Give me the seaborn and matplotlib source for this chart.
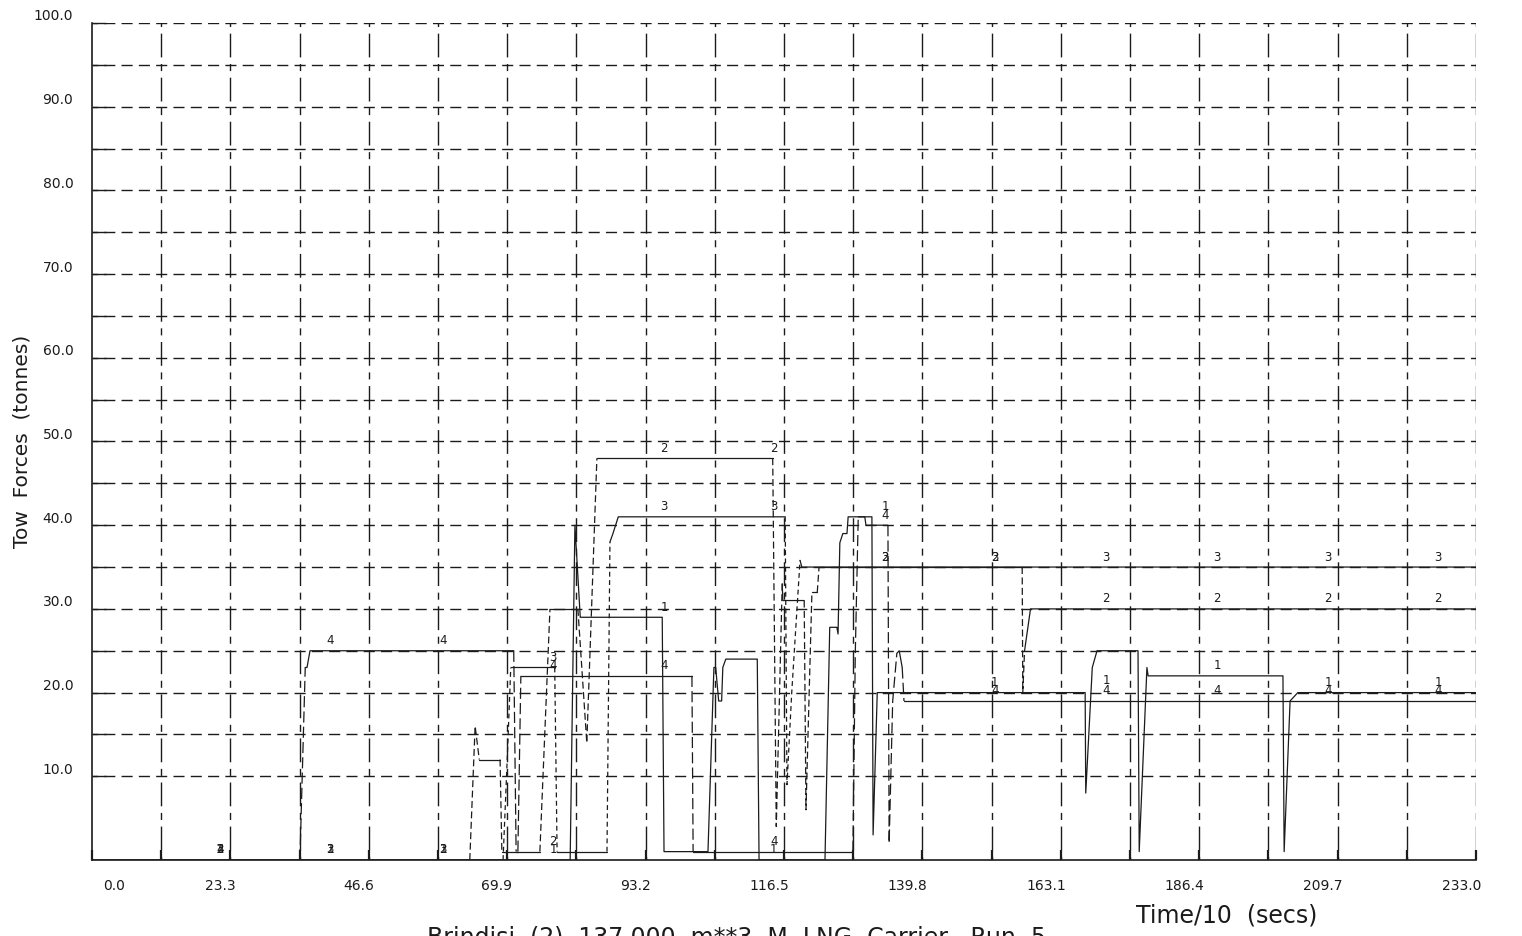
import numpy as np
import pandas as pd
import matplotlib
matplotlib.use("Agg")
import matplotlib.pyplot as plt
import matplotlib.transforms as mtransforms
from matplotlib.ticker import FixedLocator, NullFormatter
import seaborn as sns

# ---------------- data ----------------
s1_t = [0.0, 80.5, 81.3, 82.2, 96.0, 96.3, 103.7, 104.7, 105.0, 105.5, 106.0, 106.2, 106.7,
        112.0, 112.3, 123.4, 124.2, 125.4, 125.6, 125.9, 126.4, 127.1, 127.3, 131.3, 131.5,
        132.2, 167.2, 167.3, 168.4, 169.2, 176.1, 176.3, 177.6, 177.8, 200.5, 200.7, 201.7,
        203.0, 233.0]
s1_f = [0, 0, 40, 29, 29, 1, 1, 23, 23, 19, 19, 23, 24,
        24, 0, 0, 27.8, 27.8, 27.0, 37.9, 39, 39, 41, 41, 3,
        20, 20, 8, 23, 25, 25, 1, 23, 22, 22, 1, 19,
        20, 20]

s2_t = [0.0, 63.6, 64.5, 65.2, 68.7, 69.0, 75.4, 77.1, 81.8, 83.3, 85.0, 114.6, 115.2,
        116.2, 116.3, 119.9, 120.2, 121.2, 122.1, 122.4, 156.6, 156.7, 157.0, 158.0, 233.0]
s2_f = [0, 0, 16, 12, 12, 1, 1, 30, 30, 14, 48, 48, 4,
        33, 31, 31, 6, 32, 32, 35, 35, 20, 25, 30, 30]

s3_t = [0.0, 69.2, 69.9, 70.5, 77.9, 78.3, 86.7, 87.2, 87.7, 88.6, 116.7, 117.0, 117.8,
        119.2, 119.5, 233.0]
s3_f = [0, 0, 12, 23, 23, 1, 1, 38, 39, 41, 41, 9, 20,
        35.8, 35, 35]

s4_t = [0.0, 35.0, 35.9, 36.2, 36.7, 71.0, 71.4, 71.7, 72.2, 101.0, 101.2, 128.1, 128.5,
        129.0, 130.1, 130.3, 134.0, 134.2, 134.8, 135.5, 135.9, 136.4, 136.7, 233.0]
s4_f = [0, 0, 23, 23, 25, 25, 1, 1, 22, 22, 1, 1, 24.7,
        41, 41, 40, 40, 2, 19, 24.7, 25, 23, 19, 19]

series_names = ["1", "2", "3", "4"]
label_t = [21.5, 40.1, 59.1, 77.6, 96.3, 114.8, 133.5, 152.0, 170.7, 189.4, 208.1, 226.6]

x_major = [0.0, 23.3, 46.6, 69.9, 93.2, 116.5, 139.8, 163.1, 186.4, 209.7, 233.0]
y_major = [10, 20, 30, 40, 50, 60, 70, 80, 90, 100]

title_text = "Brindisi  (2)  137,000  m**3  M  LNG  Carrier,  Run  5"
xlabel_text = "Time/10  (secs)"
ylabel_text = "Tow  Forces  (tonnes)"

# ---------------- style ----------------
sns.set_style("ticks")
plt.rcParams["font.family"] = ["DejaVu Sans"]
plt.rcParams["lines.scale_dashes"] = False

W, H, DPI = 1522, 936, 100
fig = plt.figure(figsize=(W / DPI, H / DPI), dpi=DPI)
L, R, B, T = 92, 1476, 860, 23
ax = fig.add_axes([L / W, 1 - B / H, (R - L) / W, (B - T) / H])
ax.set_xlim(0, 233)
ax.set_ylim(0, 100)

ink = "#1b1b1b"

# ---------------- grid (dashed, with crosses at intersections) ----------------
x_minor = [(a + b) / 2 for a, b in zip(x_major[:-1], x_major[1:])]
y_minor = [v - 5 for v in y_major]
x_grid = sorted(set(x_major[1:] + x_minor))
y_grid = sorted(set(y_major + y_minor[1:]))

ax_w_pt = (R - L) / DPI * 72
ax_h_pt = (B - T) / DPI * 72
cw = ax_w_pt / (len(x_grid))
ch = ax_h_pt / (len(y_grid))
hp = cw / 4
h_on, h_off = hp * 0.64, hp * 0.36
for y in y_grid:
    ax.axhline(y, color=ink, lw=1.0, linestyle=(h_on / 2, (h_on, h_off)), zorder=1)
v_short, v_gap, v_long = ch * 0.16, ch * 0.15, ch * 0.54
for x in x_grid:
    ax.axvline(x, color=ink, lw=1.0,
               linestyle=(v_short / 2, (v_short, v_gap, v_long, v_gap)), zorder=1)

# ---------------- data lines ----------------
series = {"1": (s1_t, s1_f), "2": (s2_t, s2_f), "3": (s3_t, s3_f), "4": (s4_t, s4_f)}
rows = []
unit = 0
for name, (tt, ff) in series.items():
    prev_kind = None
    for i in range(len(tt) - 1):
        dt = tt[i + 1] - tt[i]
        dv = ff[i + 1] - ff[i]
        steep = abs(dv) >= 3 and abs(dv) > 5 * max(dt, 1e-6)
        kind = ("d" + name) if (steep and name != "1") else "solid"
        if kind != prev_kind:
            unit += 1
            rows.append((unit, kind, tt[i], ff[i]))
            prev_kind = kind
        rows.append((unit, kind, tt[i + 1], ff[i + 1]))
df = pd.DataFrame(rows, columns=["unit", "kind", "t", "f"])

dash_map = {"solid": "", "d2": (5.0, 2.5), "d3": (3.5, 2.5), "d4": (8.0, 3.0)}
dash_map = {k: v for k, v in dash_map.items() if k in set(df["kind"])}
sns.lineplot(data=df, x="t", y="f", units="unit", style="kind", dashes=dash_map,
             estimator=None, sort=False, color=ink, linewidth=0.9, legend=False,
             ax=ax, zorder=3)

# ---------------- curve number labels ----------------
label_lag = 2.5
for name, (tt, ff) in series.items():
    vals = np.interp(np.array(label_t) - label_lag, tt, ff)
    for x, v in zip(label_t, vals):
        ax.text(x, v + 1.2, name, ha="center", va="center", fontsize=8.5,
                color=ink, zorder=4)

# ---------------- axes, ticks ----------------
for s in ["top", "right"]:
    ax.spines[s].set_visible(False)
for s in ["left", "bottom"]:
    ax.spines[s].set_color(ink)
    ax.spines[s].set_linewidth(1.2)

ax.xaxis.set_major_locator(FixedLocator(x_major))
ax.xaxis.set_minor_locator(FixedLocator(x_minor))
ax.set_xticklabels([f"{v:.1f}" for v in x_major])
ax.yaxis.set_major_locator(FixedLocator(y_major))
ax.yaxis.set_minor_locator(FixedLocator(y_minor[1:]))
ax.set_yticklabels([f"{v:.1f}" for v in y_major])
ax.yaxis.set_minor_formatter(NullFormatter())
ax.xaxis.set_minor_formatter(NullFormatter())

ax.tick_params(axis="both", which="both", direction="in", color=ink, labelcolor=ink)
ax.tick_params(axis="y", which="both", length=10, width=1.0, pad=13.5, labelsize=10)
ax.tick_params(axis="x", which="both", length=7, width=1.6, pad=13.5, labelsize=10)
ax.set_xlabel("")
ax.set_ylabel("")

up = mtransforms.ScaledTranslation(0, 8 / DPI, fig.dpi_scale_trans)
for lab in ax.get_yticklabels():
    lab.set_transform(lab.get_transform() + up)
for i, lab in enumerate(ax.get_xticklabels()):
    lab.set_horizontalalignment("right")
    dx = (33 if i == 0 else 5) / DPI
    lab.set_transform(lab.get_transform() +
                      mtransforms.ScaledTranslation(dx, 0, fig.dpi_scale_trans))

# ---------------- texts ----------------
fig.text(22 / W, 1 - 441 / H, ylabel_text, rotation=90, ha="center", va="center",
         fontsize=14.5, color=ink)
fig.text(1227 / W, 1 - 916 / H, xlabel_text, ha="center", va="center",
         fontsize=17, color=ink)
fig.text(737 / W, 1 - 925 / H, title_text, ha="center", va="top",
         fontsize=17, color=ink)

fig.savefig("out.png", dpi=DPI)
